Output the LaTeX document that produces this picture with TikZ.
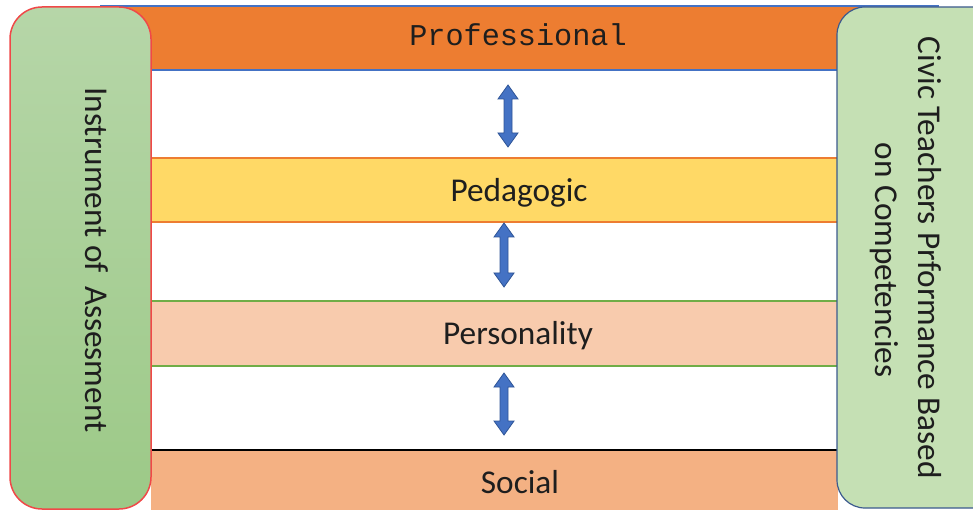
\documentclass[tikz,border=0pt]{standalone}
\usepackage{fontspec}
\setmainfont{Carlito}
\newfontfamily\monofam{Liberation Mono}
\usetikzlibrary{calc}
\definecolor{profor}{HTML}{ED7D31}
\definecolor{bandblue}{HTML}{4472C4}
\definecolor{pedyel}{HTML}{FFD966}
\definecolor{perspeach}{HTML}{F8CBAD}
\definecolor{persgreen}{HTML}{70AD47}
\definecolor{socialor}{HTML}{F4B183}
\definecolor{lgreentop}{HTML}{B6D6A8}
\definecolor{lgreenbot}{HTML}{9CC987}
\definecolor{lred}{HTML}{F04848}
\definecolor{rgreen}{HTML}{C5E0B4}
\definecolor{rborder}{HTML}{3C5A8E}
\definecolor{arrfill}{HTML}{4472C4}
\definecolor{arrdraw}{HTML}{2F5597}
\definecolor{txt}{HTML}{1E1E1E}
\tikzset{
  bigtext/.style={font=\fontsize{33.3}{40}\selectfont, text=txt, inner sep=0pt},
  monotext/.style={font=\monofam\fontsize{30.2}{36}\selectfont, text=txt, inner sep=0pt},
  bandline/.style={line width=1.6pt},
  barrow/.style={fill=arrfill, draw=arrdraw, line width=0.8pt, line join=miter},
}
\newcommand\dblarrow[2]{%
  \path[barrow] let \p1=(#1), \p2=(#2) in
    (\x1,\y1) -- (\x1+10pt,\y1-14pt) -- (\x1+4pt,\y1-14pt) -- (\x2+4pt,\y2+14pt)
    -- (\x2+10pt,\y2+14pt) -- (\x2,\y2) -- (\x2-10pt,\y2+14pt) -- (\x2-4pt,\y2+14pt)
    -- (\x1-4pt,\y1-14pt) -- (\x1-10pt,\y1-14pt) -- cycle;}
\begin{document}
\begin{tikzpicture}[x=1pt,y=-1pt]
\useasboundingbox (0,0) rectangle (973,510);
\begin{scope}
\clip (0,0) rectangle (973,510);
% bands
\draw[bandline, fill=profor, draw=bandblue] (101,6) rectangle (938,70);
\draw[bandline, fill=pedyel, draw=profor] (140,158) rectangle (850,222);
\draw[bandline, fill=perspeach, draw=persgreen] (140,301) rectangle (850,366);
\fill[socialor] (151,450) rectangle (838,530);
\draw[bandline, black] (151,450) -- (838,450);
% band labels
\node[monotext, anchor=base] (prof) at (518,46) {Professional};
\node[bigtext, anchor=base] (peda) at (519,202) {Pedagogic};
\node[bigtext, anchor=base] (pers) at (518,344) {Personality};
\node[bigtext, anchor=base] (soc) at (520,493) {Social};
% arrows
\coordinate (a1t) at (508,85);  \coordinate (a1b) at (508,147);
\coordinate (a2t) at (504,223); \coordinate (a2b) at (504,287);
\coordinate (a3t) at (504,373); \coordinate (a3b) at (504,435);
\dblarrow{a1t}{a1b}
\dblarrow{a2t}{a2b}
\dblarrow{a3t}{a3b}
% left box
\draw[line width=1.5pt, draw=lred, rounded corners=32pt, top color=lgreentop, bottom color=lgreenbot]
  (10,7) rectangle (151,509);
\node[bigtext, rotate=-90, anchor=base] (instr) at (85,260) {Instrument of\, Assesment};
% right box
\draw[line width=1.2pt, draw=rborder, fill=rgreen, rounded corners=28pt]
  (837,7) rectangle (1010,508);
\node[bigtext, rotate=-90, anchor=base] (civ1) at (918,258) {Civic Teachers Prformance Based};
\node[bigtext, rotate=-90, anchor=base] (civ2) at (875,260) {on Competencies};
\end{scope}
\end{tikzpicture}
\end{document}
